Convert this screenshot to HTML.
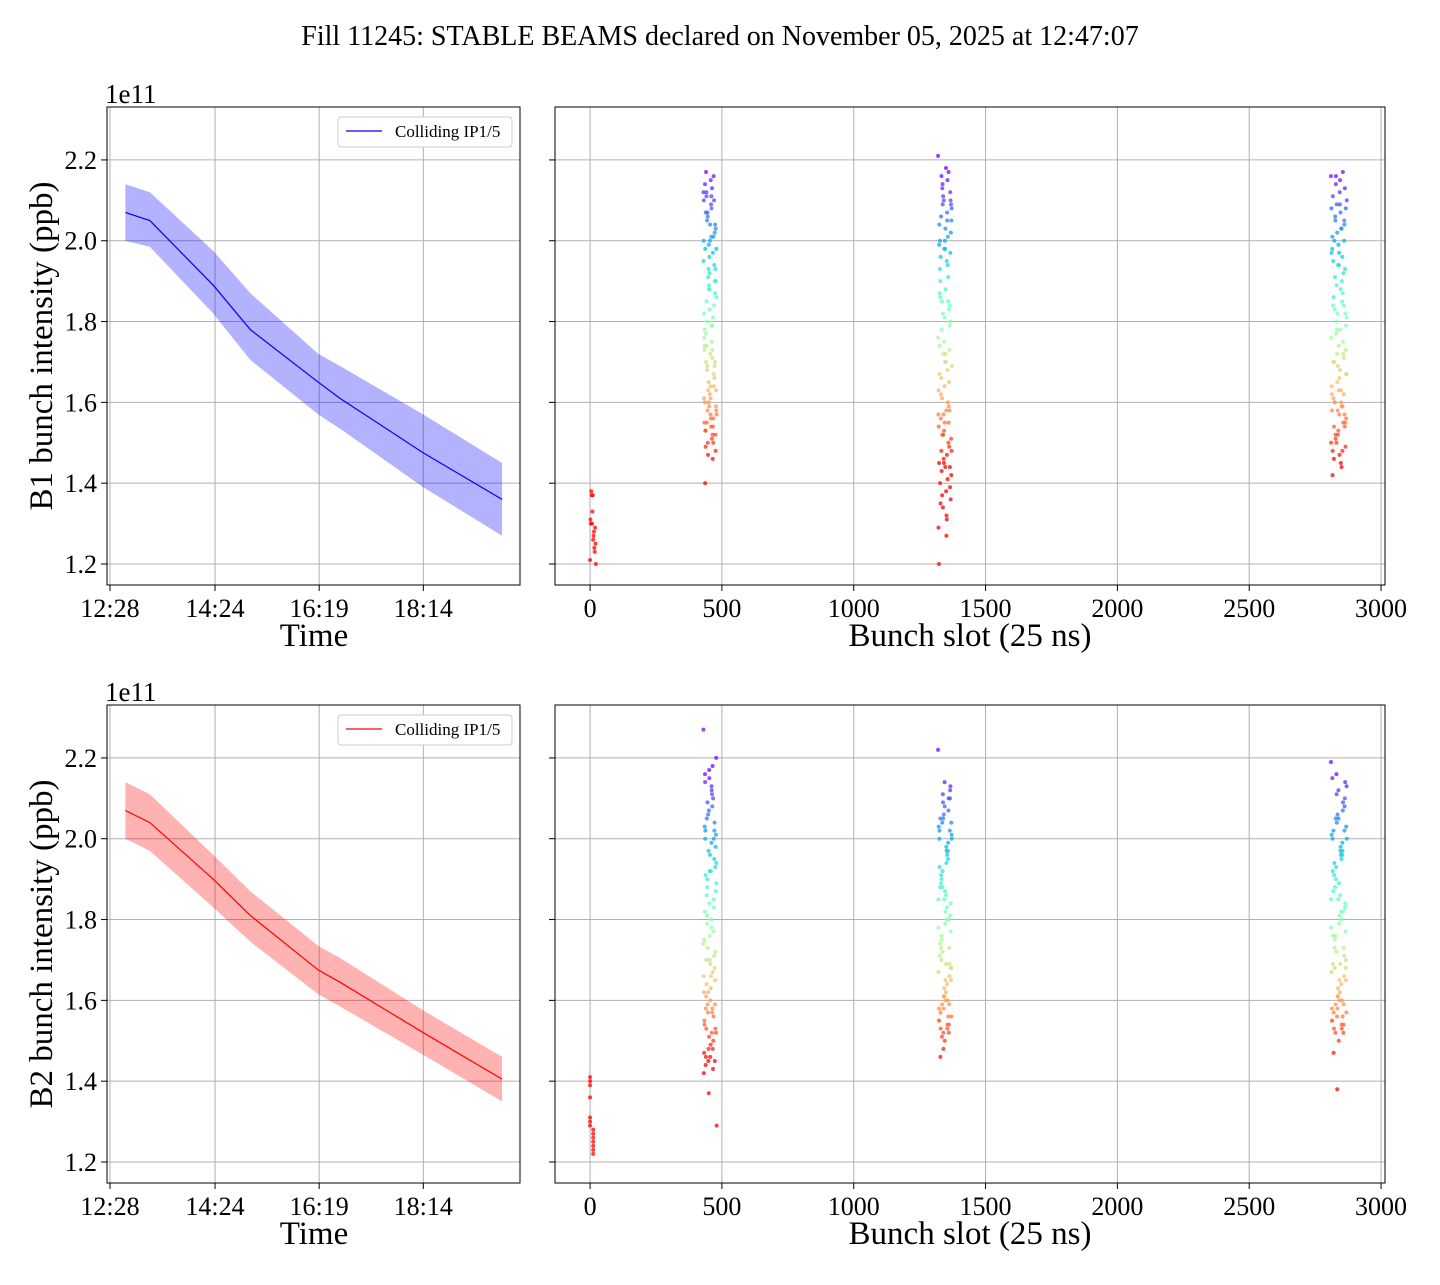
<!DOCTYPE html>
<html><head><meta charset="utf-8"><style>
body{margin:0;background:#fff}
svg text{font-family:"Liberation Serif",serif;fill:#000}
</style></head><body>
<svg id="s" width="1440" height="1280" xmlns="http://www.w3.org/2000/svg">
<text x="720" y="45" font-size="28" text-anchor="middle">Fill 11245: STABLE BEAMS declared on November 05, 2025 at 12:47:07</text>
</svg>
<script>
// time-series data (minutes since midnight)
const tMin=[765,792,862,903,978,1002,1094,1181];
const b1Mean=[2.07,2.05,1.89,1.78,1.65,1.61,1.475,1.36];
const b1Hi=[2.14,2.12,1.975,1.87,1.72,1.69,1.57,1.45];
const b1Lo=[2.00,1.985,1.82,1.705,1.57,1.535,1.39,1.27];
const b2Mean=[2.07,2.04,1.90,1.81,1.675,1.645,1.52,1.405];
const b2Hi=[2.14,2.11,1.96,1.87,1.735,1.705,1.575,1.46];
const b2Lo=[2.00,1.97,1.83,1.745,1.615,1.585,1.465,1.35];
const timeTicks=[748,864,979,1094];
const timeTickLabels=["12:28","14:24","16:19","18:14"];
const yTicks=[1.2,1.4,1.6,1.8,2.0,2.2];
const slotTicks=[0,500,1000,1500,2000,2500,3000];
// bunch trains: start slot, end slot, intensities
const trainStart=[0,430,1320,2810];
const trainEnd=[22,480,1372,2870];
const b1T0=[1.21,1.37,1.25,1.30,1.23,1.38,1.28,1.31,1.26,1.20,1.33,1.29,1.37,1.24,1.30,1.27];
const b1T1=[2.12,1.55,1.98,1.70,2.05,1.47,1.88,1.62,2.15,1.79,1.52,2.01,1.66,1.93,1.58,2.10,1.74,1.49,1.85,2.07,1.60,1.96,1.72,1.54,2.13,1.81,1.64,1.90,2.03,1.57,1.76,1.40,2.17,1.68,1.50,1.99,1.83,1.61,2.08,1.73,1.56,1.94,1.87,1.63,2.00,1.78,1.53,2.11,1.69,1.91,1.59,2.04,
 2.09,1.51,1.97,1.67,2.02,1.48,1.86,1.61,2.14,1.77,1.55,2.06,1.65,1.92,1.57,2.11,1.71,1.50,1.84,2.04,1.59,1.95,1.73,1.53,2.12,1.80,1.63,1.89,2.00,1.56,1.75,1.46,2.16,1.69,1.52,1.98,1.82,1.60,2.07,1.74,1.58,1.93,1.88,1.64,2.01,1.79,1.54,2.10,1.70,1.90];
const b1T2=[2.21,1.45,2.00,1.62,1.85,1.34,2.10,1.55,1.72,1.95,1.41,2.17,1.58,1.80,2.05,1.29,1.67,1.90,1.48,2.13,1.52,1.75,1.98,1.38,2.07,1.60,1.83,1.44,2.02,1.69,1.20,1.93,1.56,1.78,2.09,1.46,1.64,1.88,1.32,2.15,1.50,1.73,1.97,1.42,1.57,2.04,1.86,1.66,1.37,2.11,1.53,1.70,
 2.18,1.47,2.01,1.59,1.84,1.36,2.08,1.54,1.74,1.96,1.43,2.14,1.57,1.81,2.03,1.27,1.68,1.91,1.49,2.12,1.51,1.76,1.99,1.40,2.06,1.61,1.82,1.45,2.00,1.70,1.31,1.94,1.55,1.79,2.10,1.48,1.63,1.87,1.35,2.16,1.52,1.72,1.98,1.44,1.58,2.05,1.85,1.65,1.39,2.09];
const b1T3=[2.16,1.58,1.95,1.70,2.05,1.50,1.82,1.63,2.12,1.45,1.90,1.75,2.00,1.55,1.67,2.08,1.42,1.86,1.60,2.14,1.78,1.52,1.97,1.68,2.03,1.48,1.92,1.57,1.73,2.10,1.62,1.84,1.54,2.06,1.80,1.65,1.99,1.47,1.88,1.59,2.17,1.71,1.93,1.56,1.76,2.01,1.61,1.83,1.51,2.09,1.69,1.94,
 2.15,1.60,1.96,1.72,2.04,1.49,1.81,1.64,2.11,1.46,1.91,1.77,2.02,1.53,1.66,2.07,1.44,1.87,1.62,2.13,1.79,1.50,1.98,1.70,2.00,1.52,1.89,1.58,1.74,2.09,1.63,1.85,1.55,2.05,1.82,1.67,1.97,1.48,1.86,1.60,2.16,1.72,1.94,1.57,1.78,2.03,1.59,1.84,1.54,2.08];
const b2T0=[1.40,1.25,1.30,1.22,1.36,1.28,1.41,1.24,1.31,1.27,1.39,1.26,1.29,1.23];
const b2T1=[2.27,1.55,2.02,1.70,1.88,1.45,2.15,1.60,1.78,2.08,1.50,1.95,1.65,2.20,1.42,1.82,1.58,2.05,1.73,1.37,1.92,1.63,2.12,1.48,1.85,1.68,1.98,1.29,1.75,2.00,1.53,1.90,1.62,2.17,1.46,1.80,1.57,2.10,1.71,1.93,1.52,1.66,2.03,1.44,1.86,1.59,1.97,1.76,1.49,2.13,
 2.18,1.56,2.04,1.72,1.89,1.47,2.14,1.61,1.79,2.06,1.51,1.96,1.66,2.11,1.43,1.83,1.59,2.01,1.74,1.54,1.91,1.64,2.09,1.48,1.84,1.69,1.99,1.58,1.77,2.02,1.53,1.94,1.62,2.16,1.46,1.81,1.57,2.07,1.70,1.92,1.52,1.67,2.00,1.45,1.87];
const b2T2=[2.22,1.55,2.05,1.70,1.88,1.48,2.14,1.60,1.80,1.97,1.52,2.10,1.65,1.85,2.00,1.46,1.75,1.92,1.58,2.08,1.62,1.83,1.95,1.54,2.12,1.68,1.78,2.02,1.57,1.90,1.72,2.06,1.50,1.86,1.64,1.99,1.59,1.81,2.04,1.67,1.93,1.53,1.76,2.11,1.61,1.87,1.69,1.96,1.56,1.73,
 2.13,1.56,2.03,1.71,1.89,1.51,2.09,1.61,1.79,1.98,1.53,2.07,1.66,1.84,2.01,1.55,1.74,1.91,1.59,2.05,1.63,1.82,1.94,1.54,2.10,1.69,1.77,2.00,1.58,1.88,1.73,2.04,1.52,1.85,1.65,1.97,1.60,1.80,2.02,1.68];
const b2T3=[2.19,1.55,2.02,1.68,1.90,1.38,2.12,1.60,1.80,1.96,1.52,2.08,1.65,1.85,2.15,1.47,1.75,1.93,1.58,2.05,1.62,1.82,1.99,1.54,2.10,1.70,1.78,2.00,1.57,1.88,1.72,2.06,1.50,1.86,1.64,1.97,1.59,1.83,2.03,1.67,1.92,1.53,1.76,2.16,1.61,1.89,1.69,1.95,1.56,1.73,
 2.14,1.57,2.01,1.69,1.91,1.52,2.11,1.61,1.79,1.97,1.54,2.07,1.66,1.84,2.13,1.55,1.76,1.94,1.59,2.04,1.63,1.81,1.98,1.53,2.09,1.71,1.77,2.00,1.58,1.87,1.73,2.05,1.56,1.85,1.65,1.96,1.60,1.82,2.02,1.68];

const NS="http://www.w3.org/2000/svg",S=document.getElementById('s');
function mk(t,a,p){const e=document.createElementNS(NS,t);for(const k in a)e.setAttribute(k,a[k]);(p||S).appendChild(e);return e;}
const yMin=1.148,yMax=2.331;
function panel(top){return v=>top+478*(yMax-v)/(yMax-yMin);}
const tx=m=>110+(m-748)*0.9055;
const sx=v=>555+830*(v+133)/3148;

function rainbow(v){let t=(2.17-v)/(2.17-1.45);t=Math.max(0,Math.min(1,t));
  const r=Math.abs(2*t-0.5),g=Math.sin(Math.PI*t),b=Math.cos(Math.PI*t/2);
  const c=x=>Math.round(255*Math.max(0,Math.min(1,x)));return `rgb(${c(r)},${c(g)},${c(b)})`;}

function axesFrame(name){
  const g=mk('g',{});
  
  
  return g;
}
function drawLeft(top,mean,hi,lo,col,label,beam){
  const y=panel(top),g=axesFrame(beam+'-time-axes');
  timeTicks.forEach((t,i)=>{const x=tx(t);
    const l=mk('line',{x1:x,x2:x,y1:top,y2:top+478,stroke:'#b0b0b0','stroke-width':1},g);
    
    mk('line',{x1:x,x2:x,y1:top+478,y2:top+484,stroke:'#000'},g);
    const tt=mk('text',{x:x,y:top+510,'font-size':26,'text-anchor':'middle'},g);tt.textContent=timeTickLabels[i];
    });
  yTicks.forEach(v=>{const yy=y(v);
    const l=mk('line',{x1:107,x2:520,y1:yy,y2:yy,stroke:'#b0b0b0','stroke-width':1},g);
    
    mk('line',{x1:101,x2:107,y1:yy,y2:yy,stroke:'#000'},g);
    const tt=mk('text',{x:97,y:yy+9,'font-size':26,'text-anchor':'end'},g);tt.textContent=v.toFixed(1);
    });
  let pts=tMin.map((t,i)=>tx(t)+','+y(hi[i])).concat(tMin.map((t,i)=>tx(t)+','+y(lo[i])).reverse());
  const band=mk('polygon',{points:pts.join(' '),fill:col,'fill-opacity':0.3},g);
  
  const ln=mk('polyline',{points:tMin.map((t,i)=>tx(t)+','+y(mean[i])).join(' '),fill:'none',stroke:col,'stroke-width':1.2},g);
  
  const fr=mk('rect',{x:107,y:top,width:413,height:478,fill:'none',stroke:'#000','stroke-width':1},g);
  
  const lg=mk('g',{},g);
  
  mk('rect',{x:338,y:top+10,width:174,height:30,rx:3,fill:'#fff',stroke:'#ccc'},lg);
  mk('line',{x1:346,x2:382,y1:top+24,y2:top+24,stroke:col,'stroke-width':1.2},lg);
  const lt=mk('text',{x:395,y:top+30,'font-size':17},lg);lt.textContent='Colliding IP1/5';
  const ex=mk('text',{x:105,y:top-4,'font-size':27},g);ex.textContent='1e11';
  
  const xl=mk('text',{x:314,y:top+539,'font-size':33,'text-anchor':'middle'},g);xl.textContent='Time';
  
  const yl=mk('text',{x:52,y:top+239,'font-size':33,'text-anchor':'middle',transform:`rotate(-90 52 ${top+239})`},g);yl.textContent=label;
  
}
function drawRight(top,trains,beam){
  const y=panel(top),g=axesFrame(beam+'-slot-axes');
  slotTicks.forEach(v=>{const x=sx(v);
    const l=mk('line',{x1:x,x2:x,y1:top,y2:top+478,stroke:'#b0b0b0'},g);
    
    mk('line',{x1:x,x2:x,y1:top+478,y2:top+484,stroke:'#000'},g);
    const tt=mk('text',{x:x,y:top+510,'font-size':26,'text-anchor':'middle'},g);tt.textContent=v;
    });
  yTicks.forEach(v=>{const yy=y(v);
    const l=mk('line',{x1:555,x2:1385,y1:yy,y2:yy,stroke:'#b0b0b0'},g);
    
    mk('line',{x1:549,x2:555,y1:yy,y2:yy,stroke:'#000'},g);});
  trains.forEach((vals,k)=>{const n=vals.length;
    vals.forEach((v,i)=>{const slot=trainStart[k]+(trainEnd[k]-trainStart[k])*((i*7)%n)/(n-1);
      const c=mk('circle',{cx:sx(slot),cy:y(v),r:2,fill:rainbow(v),'fill-opacity':0.75},g);
      });});
  const fr=mk('rect',{x:555,y:top,width:830,height:478,fill:'none',stroke:'#000'},g);
  
  const xl=mk('text',{x:970,y:top+539,'font-size':33,'text-anchor':'middle'},g);xl.textContent='Bunch slot (25 ns)';
  
}
drawLeft(107,b1Mean,b1Hi,b1Lo,'#0000ff','B1 bunch intensity (ppb)','b1');
drawRight(107,[b1T0,b1T1,b1T2,b1T3],'b1');
drawLeft(705,b2Mean,b2Hi,b2Lo,'#ff0000','B2 bunch intensity (ppb)','b2');
drawRight(705,[b2T0,b2T1,b2T2,b2T3],'b2');
</script>
</body></html>
